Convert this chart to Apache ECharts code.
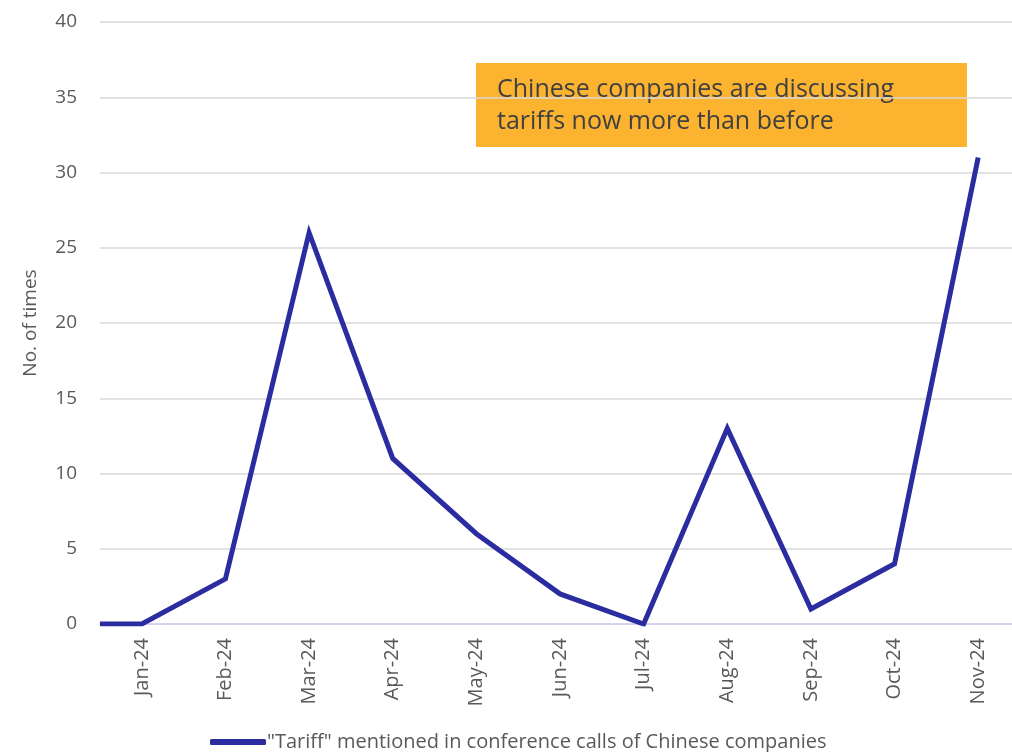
<!DOCTYPE html>
<html>
<head>
<meta charset="utf-8">
<script src="https://cdn.jsdelivr.net/npm/echarts@6/dist/echarts.min.js"></script>
<style>
  html, body { margin: 0; padding: 0; background: #ffffff; }
  #chart { width: 1012px; height: 752px; }
</style>
</head>
<body>
<div id="chart"></div>
<script>
// Monthly count of "tariff" mentions in Chinese companies' conference calls
const months = ['Jan-24', 'Feb-24', 'Mar-24', 'Apr-24', 'May-24', 'Jun-24',
                'Jul-24', 'Aug-24', 'Sep-24', 'Oct-24', 'Nov-24'];
const mentions = [0, 3, 26, 11, 6, 2, 0, 13, 1, 4, 31];
// The line begins at the left edge of the plot at zero
const leadInValue = 0;
const yTicks = [0, 5, 10, 15, 20, 25, 30, 35, 40];
const seriesName = '"Tariff" mentioned in conference calls of Chinese companies';
const noteLines = ['Chinese companies are discussing', 'tariffs now more than before'];

const FONT = '"Open Sans", Lato, sans-serif';
const TEXT = '#595959';
const LINE = '#2a2ca0';

// Category positions on a continuous scale: index 0..10, plot spans -0.5..10.5
const lineData = [[-0.5, leadInValue]].concat(mentions.map((v, i) => [i, v]));

const chart = echarts.init(document.getElementById('chart'), null, { renderer: 'canvas' });

chart.setOption({
  animation: false,
  backgroundColor: '#ffffff',
  textStyle: { fontFamily: FONT },
  grid: { left: 100, top: 22, width: 920, height: 602, containLabel: false, outerBoundsMode: 'none' },
  legend: {
    data: [seriesName],
    left: 205,
    top: 730,
    icon: 'roundRect',
    itemWidth: 56,
    itemHeight: 6,
    itemGap: 0,
    padding: [2, 5, 2, 5],
    textStyle: { color: TEXT, fontSize: 20, fontFamily: FONT, padding: [0, 0, 0, -4] }
  },
  xAxis: [
    {
      type: 'category',
      data: months,
      boundaryGap: true,
      axisLine: { show: true, lineStyle: { color: '#d4d4f2', width: 2 } },
      axisTick: { show: false },
      axisLabel: {
        rotate: 90,
        color: TEXT,
        fontSize: 20,
        fontFamily: FONT,
        margin: 14,
        interval: 0
      },
      splitLine: { show: false }
    },
    {
      type: 'value',
      min: -0.5,
      max: 10.5,
      show: false
    }
  ],
  yAxis: {
    type: 'value',
    min: yTicks[0],
    max: yTicks[yTicks.length - 1],
    interval: 5,
    name: 'No. of times',
    nameLocation: 'middle',
    nameGap: 60,
    nameRotate: 90,
    nameTextStyle: { color: TEXT, fontSize: 19, fontFamily: FONT },
    axisLine: { show: false },
    axisTick: { show: false },
    axisLabel: { color: TEXT, fontSize: 19, fontFamily: FONT, margin: 23 },
    splitLine: { lineStyle: { color: '#d9d9d9', width: 1.5 } }
  },
  series: [
    {
      name: seriesName,
      type: 'line',
      xAxisIndex: 1,
      data: lineData,
      showSymbol: false,
      symbol: 'none',
      lineStyle: { color: LINE, width: 5, join: 'miter' },
      itemStyle: { color: LINE },
      z: 5
    }
  ],
  graphic: [
    {
      type: 'group',
      left: 476,
      top: 63,
      z: 10,
      children: [
        {
          type: 'rect',
          shape: { x: 0, y: 0, width: 491, height: 84 },
          style: { fill: '#fbb330' }
        },
        {
          type: 'text',
          x: 21,
          y: 11,
          style: {
            text: noteLines.join('\n'),
            fill: '#404040',
            font: '25px ' + FONT,
            lineHeight: 32
          }
        }
      ]
    }
  ]
});
</script>
</body>
</html>
